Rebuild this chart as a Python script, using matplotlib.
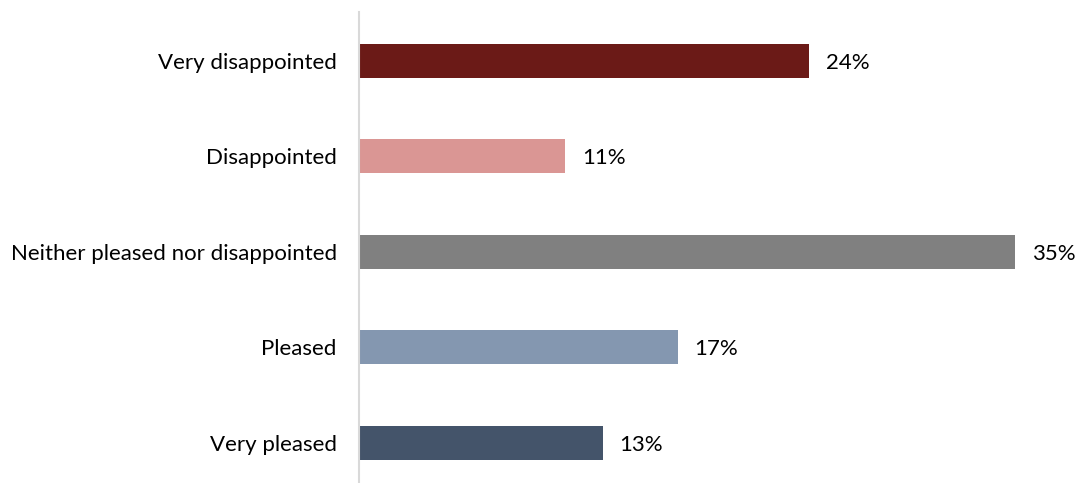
import matplotlib.pyplot as plt

categories = ['Very disappointed', 'Disappointed', 'Neither pleased nor disappointed',
              'Pleased', 'Very pleased']
values = [24, 11, 35, 17, 13]
colors = ['#6B1A17', '#DA9694', '#808080', '#8497B0', '#44546A']

plt.rcParams['font.family'] = ['Lato', 'DejaVu Sans']

fig = plt.figure(figsize=(10.76, 4.83), dpi=100)
ax = fig.add_axes([359 / 1076, 0, 717 / 1076, 471 / 483])

pos = list(range(len(categories)))
ax.barh(pos, values, height=0.356, color=colors)
for p, v in zip(pos, values):
    ax.text(v + 0.9, p + 0.02, f'{v}%', va='center', ha='left', fontsize=16, color='#000000')

ax.set_xlim(0, 717 / 18.75)
ax.set_ylim(4.42, -0.51)
ax.set_yticks(pos)
ax.set_yticklabels(categories, fontsize=16)
ax.tick_params(axis='y', length=0, pad=16)
ax.set_xticks([])
for s in ['top', 'right', 'bottom']:
    ax.spines[s].set_visible(False)
ax.spines['left'].set_color('#D9D9D9')
ax.spines['left'].set_linewidth(1.5)

fig.savefig('out.png', dpi=100)
